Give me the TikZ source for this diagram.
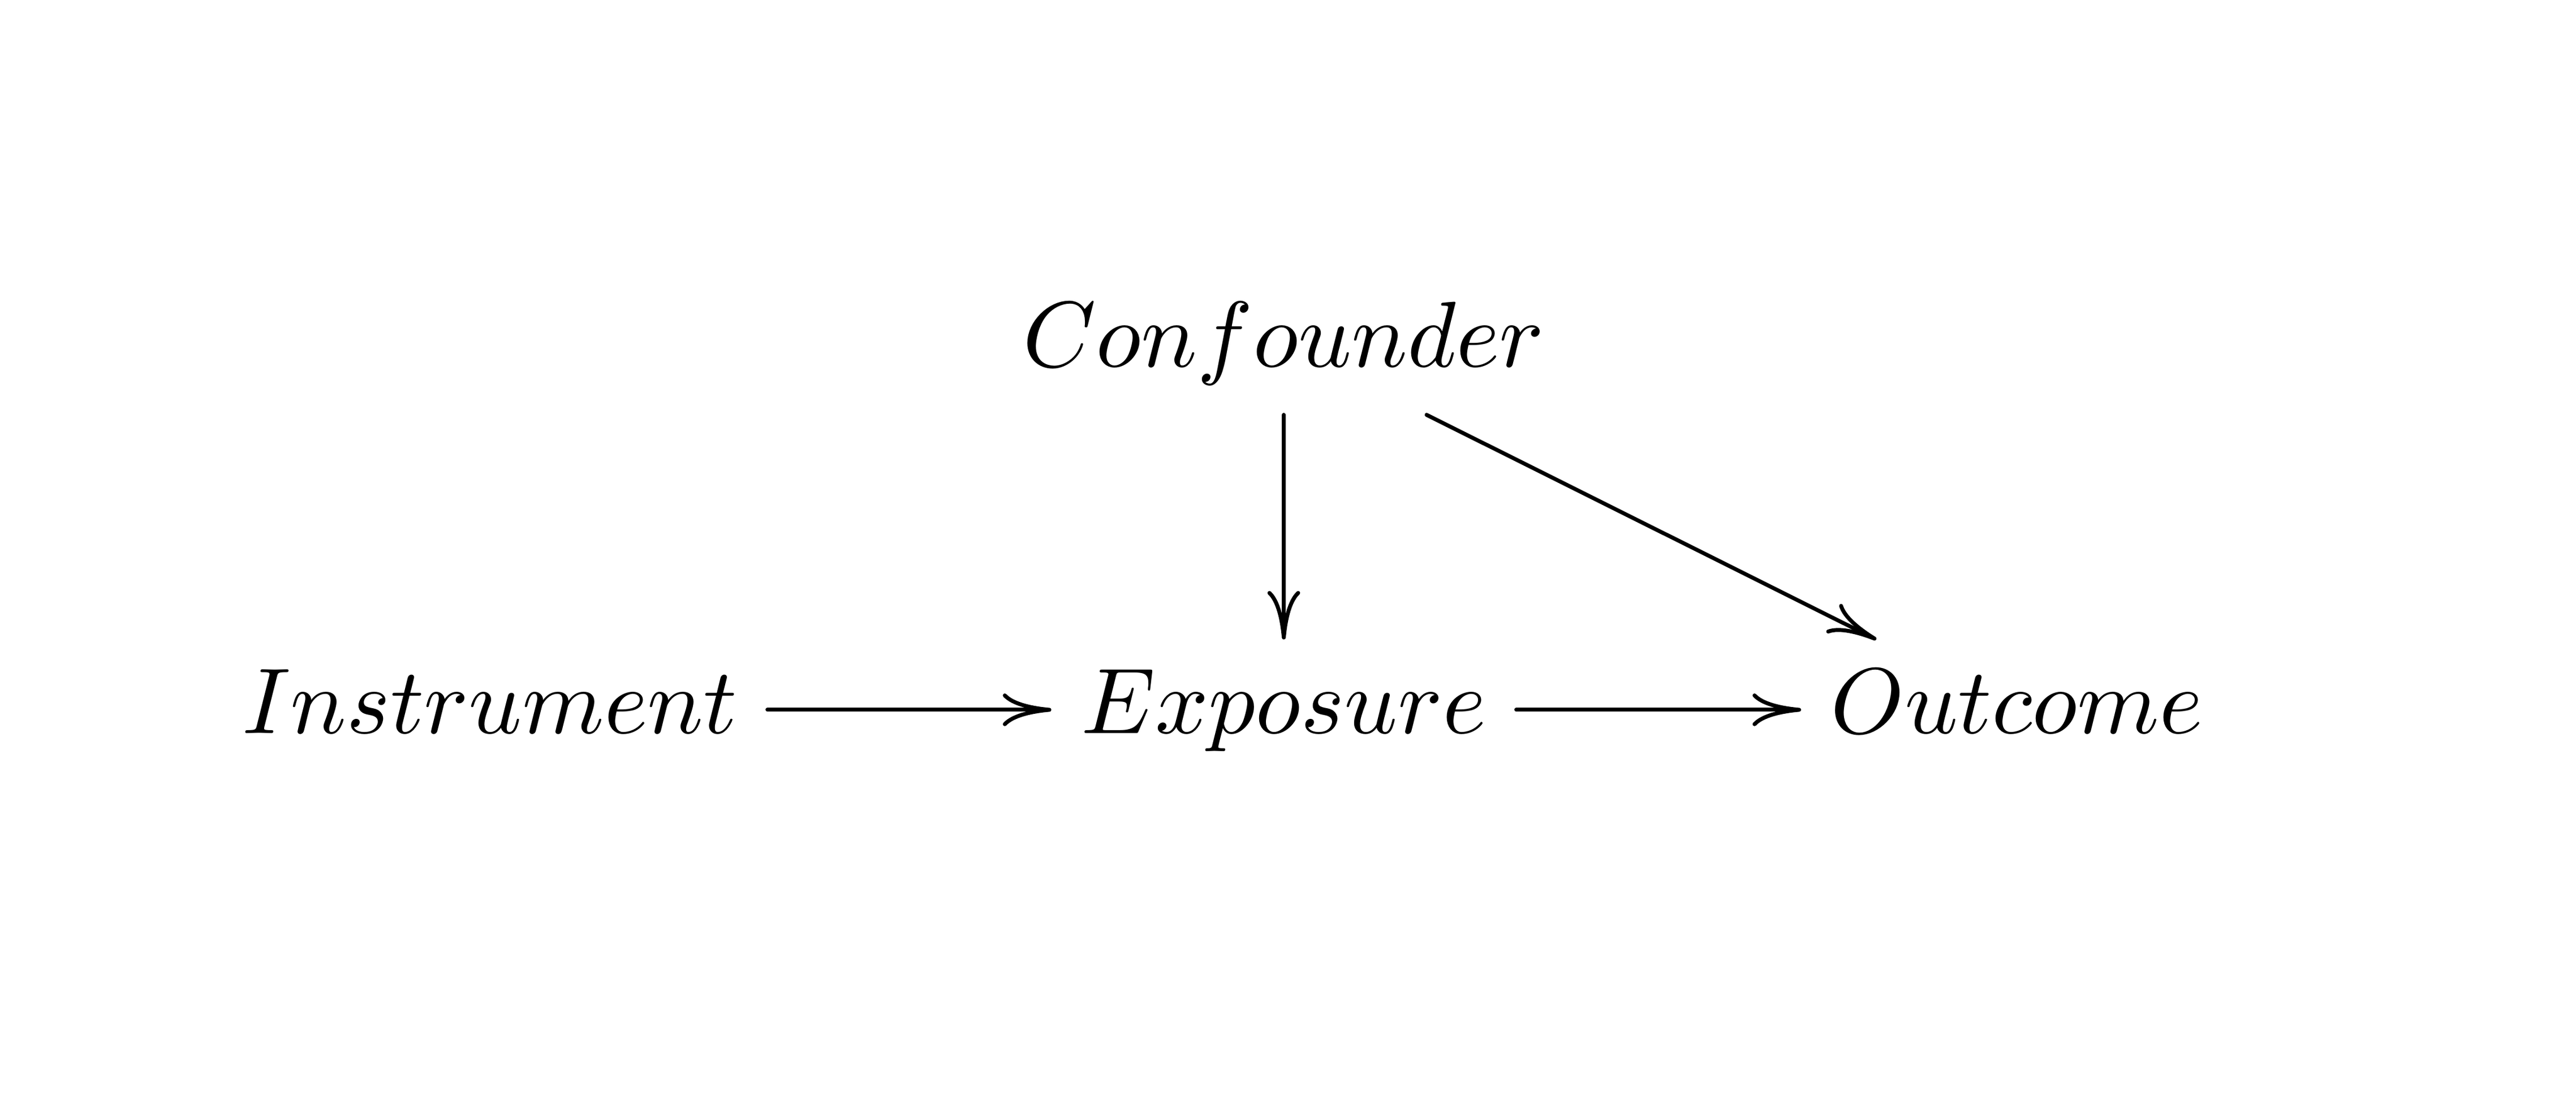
\documentclass[tikz,border=0pt]{standalone}
\usetikzlibrary{cd,arrows.meta}
\tikzset{
  cell/.style={shape=asymmetrical rectangle, inner xsep=3pt, inner ysep=3pt, anchor=center},
  arr/.style={draw, line width=0.42pt, line cap=round, -{Computer Modern Rightarrow[length=5.2pt,width=3.5pt]}}
}
\begin{document}
\begin{tikzpicture}
\useasboundingbox (0,0) rectangle (276pt,-119.1pt);
\node[cell] (ins) at (52.5pt,-76.05pt) {$Instrument$};
\node[cell] (exp) at (137.55pt,-76.05pt) {$Exposure$};
\node[cell] (out) at (216.1pt,-76.05pt) {$Outcome$};
\node[cell] (con) at (137.55pt,-36.8pt) {$Confounder$};
\draw[arr] (ins) -- (exp);
\draw[arr] (exp) -- (out);
\draw[arr] (con) -- (exp);
\draw[arr] (con) -- (out);
\end{tikzpicture}
\end{document}
